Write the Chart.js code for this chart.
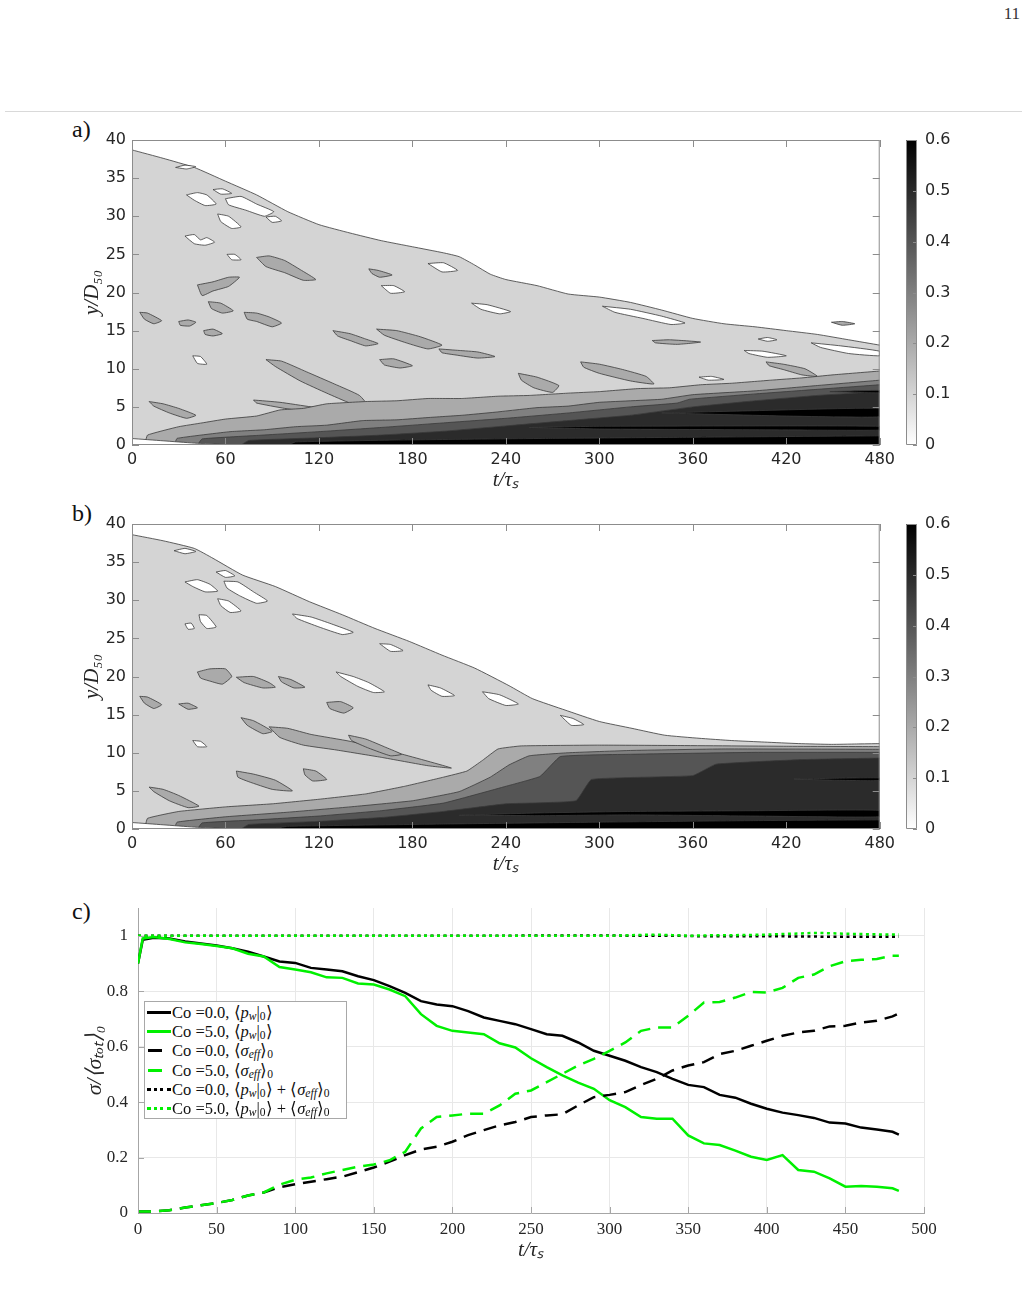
<!DOCTYPE html>
<html>
<head>
<meta charset="utf-8">
<script src="https://cdn.jsdelivr.net/npm/chart.js@4.4.1/dist/chart.umd.min.js"></script>
<style>
  body { margin: 0; background: #fff; width: 1029px; height: 1290px; position: relative; overflow: hidden; }
  canvas { position: absolute; }
  .tag { position: absolute; font: 24px 'Liberation Serif', serif; color: #111; }
  #pagenum { position: absolute; right: 9px; top: 4px; font: 17px 'Liberation Serif', serif; color: #333; }
  #rule { position: absolute; left: 5px; top: 111px; width: 1017px; height: 1px; background: #d9d9d9; }
  #legend { position: absolute; left: 144px; top: 1001px; width: 201px; height: 116px; border: 1px solid #a8a8a8;
            background: #fff; z-index: 2; font: 16.5px 'Liberation Serif', serif; color: #111; }
  #legend .row { position: absolute; left: 0; height: 19px; line-height: 19px; white-space: nowrap; }
  #legend .smp { position: absolute; top: 8px; height: 0; }
  #legend .txt { position: absolute; left: 27px; top: 0; }
  #legend sub { font-size: 70%; vertical-align: -0.2em; line-height: 0; }
</style>
</head>
<body>
<div id="pagenum">11</div>
<div id="rule"></div>
<div class="tag" style="left:72px;top:116px">a)</div>
<div class="tag" style="left:72px;top:500px">b)</div>
<div class="tag" style="left:72px;top:898px">c)</div>

<canvas id="contourA" width="900" height="390" style="left:0;top:110px"></canvas>
<canvas id="barA" width="149" height="390" style="left:880px;top:110px"></canvas>
<canvas id="contourB" width="900" height="390" style="left:0;top:494px"></canvas>
<canvas id="barB" width="149" height="390" style="left:880px;top:494px"></canvas>
<canvas id="stressC" width="1000" height="390" style="left:0;top:880px"></canvas>
<div id="legend"></div>

<script>
// ---------- panel a / b : contour levels as [t, y] ----------
const levelGreys = ['#d4d4d4', '#aaaaaa', '#808080', '#555555', '#2b2b2b', '#000000'];
const colorbarMax = 0.6;

// panel a
const aTop = [[0,38.7],[20,37.6],[40,36.4],[60,34.6],[80,32.8],[100,30.6],[120,28.9],[140,27.8],[160,26.8],
  [180,26.0],[200,25.2],[210,24.7],[220,23.6],[230,22.4],[240,21.7],[260,20.9],[280,19.8],[300,19.4],[320,18.7],
  [340,17.7],[360,16.6],[380,15.9],[400,15.5],[420,15.0],[440,14.5],[460,13.8],[480,13.1]];
const aWedge = [[0,0.85],[20,0.55],[40,0.25],[60,0.05],[70,0]];
const aLev2 = [[8,0],[10,1.3],[30,2.4],[45,2.9],[60,3.4],[80,3.8],[95,4.6],[110,4.8],[125,5.4],[150,5.7],[170,5.8],
  [190,6.1],[212,6.1],[235,6.4],[255,6.5],[280,6.8],[300,7.0],[325,7.4],[345,7.5],[365,7.9],[385,8.1],[410,8.5],
  [430,8.8],[450,9.2],[480,9.7]];
const aLev3 = [[27,0],[29,0.87],[63,1.75],[85,2.0],[105,2.4],[125,2.6],[148,3.2],[170,3.3],[190,3.6],[212,3.9],
  [233,4.3],[260,4.9],[280,5.1],[300,5.6],[340,6.0],[360,6.6],[400,7.1],[440,7.8],[480,8.5]];
const aLev4 = [[42,0],[45,0.8],[80,1.25],[120,1.75],[160,2.3],[200,2.9],[240,3.5],[280,4.2],[320,5.0],[350,5.5],
  [358,6.0],[400,6.7],[440,7.3],[480,7.9]];
const aLev5 = [[70,0],[75,0.6],[120,0.95],[160,1.3],[200,1.8],[240,2.5],[280,3.2],[320,3.9],[360,5.0],[400,5.8],
  [440,6.5],[480,7.0]];
const aLev6 = [[100,0],[105,0.4],[170,0.65],[270,0.87],[350,1.0],[480,1.2]];
const aWhiteSpots = [
  [[28,36.4],[34,36.7],[41,36.5],[35,36.2]],
  [[52,33.5],[58,33.6],[64,33.0],[57,32.9]],
  [[35,32.8],[42,33.1],[48,32.8],[54,31.6],[47,31.4],[40,32.1]],
  [[60,32.3],[70,32.6],[80,31.6],[91,30.6],[85,30.0],[73,30.8],[62,31.5]],
  [[55,30.3],[62,30.0],[70,28.6],[64,28.4],[57,29.3]],
  [[86,29.9],[92,30.0],[96,29.4],[90,29.2]],
  [[61,25.0],[66,25.0],[70,24.3],[64,24.3]],
  [[160,20.9],[168,20.9],[175,20.1],[166,19.9]],
  [[218,18.6],[228,18.4],[243,17.5],[236,17.2],[224,17.8]],
  [[190,23.8],[200,23.9],[209,22.9],[199,22.7]],
  [[34,27.4],[40,27.6],[44,26.9],[48,27.2],[53,26.6],[47,26.2],[40,26.4]],
  [[39,11.7],[44,11.6],[48,10.6],[42,10.7]],
  [[302,18.2],[320,17.8],[340,16.9],[355,16.0],[346,15.8],[328,16.6],[310,17.4]],
  [[393,12.4],[405,12.3],[420,11.7],[408,11.5],[396,12.0]],
  [[402,13.9],[408,14.1],[414,13.8],[408,13.6]],
  [[436,13.4],[455,13.0],[480,12.3],[480,11.7],[460,12.0],[442,12.8]],
  [[364,8.9],[372,9.0],[380,8.6],[370,8.5]]
];
const aGreySpots = [
  [[80,24.6],[88,24.8],[98,24.2],[108,23.0],[118,21.7],[110,21.6],[98,22.6],[86,23.4]],
  [[42,21.0],[52,21.4],[62,22.0],[69,22.0],[62,20.8],[52,20.2],[45,19.6]],
  [[49,18.8],[57,18.6],[65,17.6],[58,17.3],[51,17.9]],
  [[72,17.4],[80,17.3],[88,16.8],[96,16.0],[90,15.5],[80,16.2],[74,16.5]],
  [[129,15.0],[140,14.6],[150,13.9],[158,13.3],[150,13.0],[140,13.7],[132,14.3]],
  [[157,15.2],[170,15.0],[185,14.2],[199,13.1],[190,12.6],[176,13.4],[162,14.4]],
  [[197,12.6],[210,12.4],[222,12.2],[233,11.6],[222,11.4],[208,11.8],[199,12.1]],
  [[5,17.4],[10,17.3],[19,16.3],[14,15.9],[8,16.5]],
  [[30,16.2],[36,16.4],[41,16.1],[37,15.6],[31,15.7]],
  [[46,15.0],[52,15.2],[58,14.6],[52,14.3],[47,14.5]],
  [[159,11.2],[168,11.3],[180,10.4],[172,10.1],[162,10.5]],
  [[152,23.1],[158,22.9],[167,22.3],[159,22.0],[154,22.5]],
  [[334,13.7],[345,13.8],[365,13.5],[350,13.2],[336,13.4]],
  [[407,10.9],[418,10.6],[432,10.0],[440,9.0],[430,9.2],[418,9.9],[409,10.4]],
  [[449,16.1],[456,16.2],[464,15.9],[456,15.7]],
  [[86,11.2],[96,11.0],[112,9.6],[130,8.0],[146,6.5],[152,5.0],[140,5.5],[125,6.8],[108,8.4],[92,10.3]],
  [[78,5.9],[95,5.6],[115,5.0],[135,4.5],[152,3.8],[140,3.6],[118,4.2],[98,4.8],[80,5.5]],
  [[11,5.7],[20,5.4],[30,4.8],[41,3.9],[35,3.5],[24,4.2],[14,5.1]],
  [[248,9.4],[260,8.9],[274,7.8],[270,6.9],[258,7.5],[250,8.5]],
  [[288,10.9],[300,10.6],[315,9.9],[330,9.0],[335,8.0],[320,8.4],[300,9.4],[290,10.2]]
];
const aBlackSpots = [
  [[255,2.3],[300,2.45],[400,2.5],[480,2.45],[480,1.95],[400,2.0],[300,2.1]],
  [[340,4.2],[400,4.5],[480,4.8],[480,3.7],[420,3.8]],
  [[448,7.0],[465,7.1],[480,7.15],[480,6.85],[465,6.9]]
];

// panel b
const bTop = [[0,38.6],[20,37.8],[40,36.8],[52,35.5],[71,33.3],[92,31.8],[114,29.8],[135,28.1],[156,26.3],
  [178,24.6],[199,22.8],[220,21.1],[242,18.8],[257,17.1],[278,15.6],[300,14.1],[321,13.2],[342,12.3],[364,11.9],
  [385,11.6],[406,11.4],[428,11.2],[449,11.1],[465,11.15],[480,11.2]];
const bWedge = [[0,0.85],[20,0.55],[40,0.25],[60,0.05],[70,0]];
const bLev2 = [[8,0],[10,1.4],[30,2.3],[60,2.9],[90,3.3],[120,3.9],[150,4.6],[175,5.6],[200,6.8],[215,7.6],
  [225,9.0],[235,10.5],[250,10.9],[300,11.0],[350,10.95],[420,10.85],[480,10.8]];
const bLev3 = [[27,0],[29,0.9],[60,1.6],[100,2.2],[140,2.9],[180,3.7],[210,4.9],[230,6.8],[242,8.4],[255,9.6],
  [280,10.0],[320,10.3],[380,10.5],[480,10.45]];
const bLev4 = [[42,0],[45,0.8],[80,1.2],[120,1.7],[160,2.4],[200,3.4],[240,5.6],[262,6.9],[275,9.5],[320,9.8],
  [400,10.05],[480,10.05]];
const bLev5 = [[70,0],[75,0.6],[120,1.0],[160,1.5],[200,2.3],[240,3.3],[285,3.7],[295,6.5],[360,7.0],[375,8.5],
  [430,9.1],[480,9.3]];
const bLev6 = [[90,0],[100,0.35],[200,0.65],[300,0.9],[400,1.1],[480,1.2]];
const bWhiteSpots = [
  [[27,36.5],[34,36.8],[41,36.4],[34,36.1]],
  [[54,33.7],[60,33.9],[66,33.2],[60,33.0]],
  [[34,32.4],[42,32.7],[50,32.1],[55,31.2],[47,31.1],[39,31.8]],
  [[59,32.5],[68,32.4],[78,31.1],[87,29.9],[80,29.6],[69,30.6],[61,31.6]],
  [[55,30.2],[62,29.9],[70,28.6],[63,28.4],[57,29.3]],
  [[103,28.2],[115,27.8],[128,26.9],[142,25.8],[135,25.5],[120,26.5],[106,27.6]],
  [[159,24.3],[166,24.2],[174,23.4],[166,23.3]],
  [[131,20.6],[142,20.0],[152,19.2],[162,18.0],[155,17.9],[145,18.7],[134,20.0]],
  [[190,18.9],[198,18.5],[207,17.5],[199,17.4],[192,18.2]],
  [[225,18.0],[236,17.6],[248,16.4],[240,16.2],[229,17.1]],
  [[43,28.1],[48,28.0],[54,26.5],[48,26.3],[44,27.2]],
  [[39,11.6],[44,11.5],[48,10.8],[42,10.8]],
  [[275,14.9],[283,14.5],[290,13.7],[282,13.6]],
  [[34,26.9],[38,27.0],[40,26.3],[36,26.2]]
];
const bGreySpots = [
  [[5,17.4],[10,17.3],[19,16.3],[14,15.8],[8,16.5]],
  [[42,20.6],[50,21.0],[60,21.0],[64,20.0],[58,19.0],[50,19.4],[44,19.8]],
  [[67,19.9],[78,20.0],[88,19.2],[92,18.6],[84,18.5],[72,19.2]],
  [[94,20.0],[102,19.6],[111,18.6],[104,18.5],[96,19.3]],
  [[125,16.6],[134,16.7],[142,15.9],[136,15.2],[127,15.8]],
  [[30,16.4],[36,16.5],[42,15.9],[36,15.7]],
  [[70,14.6],[78,14.2],[90,12.8],[84,12.5],[74,13.6]],
  [[139,12.3],[150,11.8],[163,10.7],[173,9.8],[166,9.6],[152,10.6],[141,11.6]],
  [[88,13.4],[100,13.2],[115,12.4],[140,11.5],[170,10.0],[205,8.0],[190,8.3],[160,9.4],[130,10.4],[110,11.0],[95,12.0]],
  [[67,7.6],[78,7.2],[92,6.4],[103,5.0],[90,5.2],[75,6.2],[68,6.8]],
  [[110,7.9],[118,7.6],[125,6.5],[116,6.3],[111,7.1]],
  [[11,5.5],[20,5.2],[30,4.4],[43,3.0],[36,2.8],[24,3.7],[14,4.9]]
];
const bBlackSpots = [
  [[210,1.8],[260,2.1],[320,2.3],[400,2.4],[480,2.45],[480,1.6],[400,1.7],[320,1.85],[260,1.75]],
  [[425,6.55],[450,6.65],[480,6.7],[480,6.35],[450,6.4]]
];

// ---------- panel c : stresses vs t/tau_s ----------
const tGrid = [0,3,10,20,30,40,50,60,70,80,90,100,110,120,130,140,150,160,170,180,190,200,210,220,230,240,
  250,260,270,280,290,300,310,320,330,340,350,360,370,380,390,400,410,420,430,440,450,460,470,480,484];
const pwCo0 = [0.90,0.985,0.993,0.990,0.979,0.972,0.965,0.955,0.942,0.925,
  0.907,0.902,0.884,0.878,0.872,0.854,0.840,0.818,0.794,0.764,
  0.752,0.746,0.728,0.705,0.693,0.681,0.663,0.645,0.639,0.615,
  0.585,0.567,0.549,0.526,0.508,0.484,0.462,0.454,0.426,0.416,
  0.394,0.376,0.362,0.353,0.343,0.326,0.323,0.308,0.301,0.293,0.283];
const pwCo5 = [0.90,0.99,0.995,0.988,0.976,0.970,0.963,0.955,0.935,0.925,
  0.887,0.878,0.868,0.850,0.848,0.828,0.824,0.806,0.782,0.717,
  0.675,0.657,0.651,0.645,0.612,0.597,0.558,0.526,0.496,0.470,
  0.448,0.407,0.382,0.346,0.340,0.340,0.280,0.251,0.245,0.225,
  0.203,0.191,0.209,0.155,0.149,0.125,0.095,0.097,0.095,0.089,0.080];
const effCo0 = [0.005,0.005,0.006,0.010,0.020,0.028,0.036,0.047,0.063,0.074,
  0.093,0.104,0.113,0.122,0.131,0.147,0.164,0.185,0.209,0.229,
  0.239,0.257,0.281,0.299,0.316,0.328,0.346,0.352,0.356,0.388,
  0.418,0.426,0.436,0.462,0.484,0.514,0.532,0.544,0.573,0.585,
  0.603,0.621,0.639,0.651,0.657,0.673,0.675,0.687,0.693,0.709,0.720];
const effCo5 = [0.005,0.005,0.006,0.010,0.020,0.028,0.036,0.047,0.063,0.074,
  0.102,0.120,0.128,0.143,0.155,0.167,0.175,0.190,0.221,0.305,
  0.346,0.352,0.358,0.358,0.388,0.430,0.442,0.472,0.502,0.532,
  0.556,0.585,0.615,0.657,0.669,0.669,0.711,0.759,0.761,0.777,
  0.797,0.795,0.812,0.848,0.860,0.890,0.908,0.913,0.916,0.928,0.928];
const sumCo0 = [1.0,1.0,1.0,1.0,1.0,1.0,1.0,1.0,1.0,1.0,
  1.0,1.0,1.0,1.0,1.0,1.0,1.0,1.0,1.0,1.0,
  1.0,1.0,1.0,1.0,1.0,1.0,1.001,1.001,1.001,1.001,
  1.001,1.001,1.0,1.0,1.0,1.0,0.999,0.998,0.998,0.998,
  0.998,0.998,0.998,0.997,0.997,0.996,0.996,0.996,0.996,0.996,0.996];
const sumCo5 = [1.0,1.0,1.0,1.0,1.0,1.0,1.0,1.0,1.0,1.0,
  1.0,1.0,1.0,1.0,1.0,1.0,1.0,1.0,1.0,1.0,
  1.0,1.0,1.0,1.0,1.0,1.0,1.0,1.0,1.0,1.0,
  1.0,1.0,1.001,1.003,1.004,1.002,1.0,1.001,1.002,1.002,
  1.003,1.004,1.006,1.008,1.010,1.009,1.007,1.006,1.005,1.004,1.004];
const legendLabels = [
  'Co =0.0, ⟨<i>p<sub>w</sub></i>|<sub>0</sub>⟩',
  'Co =5.0, ⟨<i>p<sub>w</sub></i>|<sub>0</sub>⟩',
  'Co =0.0, ⟨<i>σ<sub>eff</sub></i>⟩<sub>0</sub>',
  'Co =5.0, ⟨<i>σ<sub>eff</sub></i>⟩<sub>0</sub>',
  'Co =0.0, ⟨<i>p<sub>w</sub></i>|<sub>0</sub>⟩ + ⟨<i>σ<sub>eff</sub></i>⟩<sub>0</sub>',
  'Co =5.0, ⟨<i>p<sub>w</sub></i>|<sub>0</sub>⟩ + ⟨<i>σ<sub>eff</sub></i>⟩<sub>0</sub>'
];

// ---------- helpers ----------
const inkColor = '#262626';
const frameGrey = '#8c8c8c';
const edgeColor = '#3a3a3a';

// draws the box and the small inward tick marks (matlab style)
function framePlugin(opt) {
  return {
    id: 'frame',
    afterDatasetsDraw(chart) {
      const {ctx, chartArea: a, scales} = chart;
      const L = opt.tick;
      ctx.save();
      ctx.strokeStyle = opt.color;
      ctx.lineWidth = 1;
      ctx.beginPath();
      if (opt.box) ctx.rect(a.left + 0.5, a.top + 0.5, a.right - a.left - 1, a.bottom - a.top - 1);
      if (opt.xTicks) {
        scales.x.ticks.forEach(t => {
          const p = Math.round(scales.x.getPixelForValue(t.value)) + 0.5;
          ctx.moveTo(p, a.bottom); ctx.lineTo(p, a.bottom - L);
          if (opt.box) { ctx.moveTo(p, a.top); ctx.lineTo(p, a.top + L); }
        });
      }
      scales.y.ticks.forEach(t => {
        const p = Math.round(scales.y.getPixelForValue(t.value)) + 0.5;
        if (opt.left) { ctx.moveTo(a.left, p); ctx.lineTo(a.left + L, p); }
        if (opt.right) { ctx.moveTo(a.right, p); ctx.lineTo(a.right - L, p); }
      });
      ctx.stroke();
      ctx.restore();
    }
  };
}

function buildContour(id, top, wedge, levels, whiteSpots, greySpots, blackSpots) {
  const pts = arr => arr.map(([x, y]) => ({x, y}));
  const ring = arr => pts(arr.concat([arr[0]]));   // close the island outline
  const base = {showLine: true, pointRadius: 0, borderColor: edgeColor, borderWidth: 0.8};
  const ds = [];
  // outer 0.1 contour, everything below it light grey
  ds.push({...base, data: pts(top), fill: 'origin', backgroundColor: levelGreys[0], tension: 0.15, order: 60});
  whiteSpots.forEach(s => ds.push({...base, data: ring(s), fill: 'shape', backgroundColor: '#ffffff', tension: 0.15, order: 55}));
  greySpots.forEach(s => ds.push({...base, data: ring(s), fill: 'shape', backgroundColor: levelGreys[1], tension: 0.15, order: 55}));
  // higher levels stacked on top, darker each time
  levels.forEach((lv, i) => ds.push({...base, data: pts(lv), fill: 'origin', backgroundColor: levelGreys[i + 1], tension: 0.1, order: 50 - i * 8}));
  blackSpots.forEach(s => ds.push({...base, data: ring(s), fill: 'shape', backgroundColor: '#000000', tension: 0.15, order: 12}));
  // thin white wedge at the bottom left
  ds.push({...base, data: pts(wedge), fill: 'origin', backgroundColor: '#ffffff', tension: 0.2, order: 2});

  new Chart(document.getElementById(id), {
    type: 'scatter',
    data: {datasets: ds},
    options: {
      responsive: false,
      animation: false,
      events: [],
      layout: {padding: {top: 30, right: 18, left: 0, bottom: 0}},
      plugins: {legend: {display: false}, tooltip: {enabled: false}},
      scales: {
        x: {
          min: 0, max: 480,
          afterFit: s => { s.height = 55; },
          ticks: {stepSize: 60, padding: 5, color: inkColor, font: {family: 'DejaVu Sans', size: 16}},
          grid: {display: false, drawTicks: false},
          border: {display: false},
          title: {display: true, text: 't/τₛ', color: inkColor,
                  font: {family: 'Liberation Serif', style: 'italic', size: 21}, padding: {top: 0, bottom: 7}}
        },
        y: {
          min: 0, max: 40,
          afterFit: s => { s.width = 132; },
          ticks: {stepSize: 5, padding: 6, color: inkColor, font: {family: 'DejaVu Sans', size: 16}},
          grid: {display: false, drawTicks: false},
          border: {display: false},
          title: {display: true, text: 'y/D₅₀', color: inkColor,
                  font: {family: 'Liberation Serif', style: 'italic', size: 21}, padding: {top: 80, bottom: 0}}
        }
      }
    },
    plugins: [framePlugin({box: true, xTicks: true, left: true, right: true, tick: 7, color: frameGrey})]
  });
}

function buildColorbar(id) {
  new Chart(document.getElementById(id), {
    type: 'bar',
    data: {
      labels: [''],
      datasets: [{
        data: [colorbarMax],
        borderWidth: 0,
        barPercentage: 1,
        categoryPercentage: 1,
        backgroundColor: ctx => {
          const a = ctx.chart.chartArea;
          if (!a) return '#888';
          const g = ctx.chart.ctx.createLinearGradient(0, a.bottom, 0, a.top);
          g.addColorStop(0, '#ffffff');
          g.addColorStop(1, '#000000');
          return g;
        }
      }]
    },
    options: {
      responsive: false,
      animation: false,
      events: [],
      layout: {padding: {top: 30, left: 26, bottom: 55, right: 0}},
      plugins: {legend: {display: false}, tooltip: {enabled: false}},
      scales: {
        x: {display: false},
        y: {
          position: 'right', min: 0, max: colorbarMax,
          afterFit: s => { s.width = 112; },
          ticks: {stepSize: 0.1, padding: 8, color: inkColor, font: {family: 'DejaVu Sans', size: 16}},
          grid: {display: false, drawTicks: false},
          border: {display: false}
        }
      }
    },
    plugins: [framePlugin({box: true, xTicks: false, left: false, right: true, tick: 4, color: frameGrey})]
  });
}

buildContour('contourA', aTop, aWedge, [aLev2, aLev3, aLev4, aLev5, aLev6], aWhiteSpots, aGreySpots, aBlackSpots);
buildColorbar('barA');
buildContour('contourB', bTop, bWedge, [bLev2, bLev3, bLev4, bLev5, bLev6], bWhiteSpots, bGreySpots, bBlackSpots);
buildColorbar('barB');

// ---------- panel c ----------
const green = '#00f000';
const series = [
  {values: pwCo0, color: '#000000', dash: []},
  {values: pwCo5, color: green, dash: []},
  {values: effCo0, color: '#000000', dash: [13, 8]},
  {values: effCo5, color: green, dash: [13, 8]},
  {values: sumCo0, color: '#000000', dash: [3, 3.5]},
  {values: sumCo5, color: green, dash: [3, 3.5]}
];

new Chart(document.getElementById('stressC'), {
  type: 'line',
  data: {
    datasets: series.map((s, i) => ({
      data: s.values.map((v, k) => ({x: tGrid[k], y: v})),
      borderColor: s.color,
      borderDash: s.dash,
      borderWidth: 2.5,
      borderCapStyle: 'butt',
      pointRadius: 0,
      fill: false,
      tension: 0,
      order: series.length - i   // later series on top, like matlab
    }))
  },
  options: {
    responsive: false,
    animation: false,
    events: [],
    layout: {padding: {top: 28, right: 76, left: 0, bottom: 0}},
    plugins: {legend: {display: false}, tooltip: {enabled: false}},
    scales: {
      x: {
        type: 'linear', min: 0, max: 500,
        afterFit: s => { s.height = 57; },
        ticks: {stepSize: 50, padding: 6, color: inkColor, font: {family: 'Liberation Serif', size: 17}},
        grid: {color: '#e8e8e8', drawTicks: false},
        border: {color: '#a6a6a6'},
        title: {display: true, text: 't/τₛ', color: inkColor,
                font: {family: 'Liberation Serif', style: 'italic', size: 21}, padding: {top: 0, bottom: 7}}
      },
      y: {
        min: 0, max: 1.1,
        afterFit: s => { s.width = 138; },
        ticks: {stepSize: 0.2, includeBounds: false, padding: 10, color: inkColor,
                font: {family: 'Liberation Serif', size: 17},
                callback: v => String(Number(v.toFixed(1)))},
        grid: {color: '#e8e8e8', drawTicks: false},
        border: {color: '#a6a6a6'},
        title: {display: true, text: 'σ/⟨σₜₒₜ⟩₀', color: inkColor,
                font: {family: 'Liberation Serif', style: 'italic', size: 22}, padding: {top: 82, bottom: 0}}
      }
    }
  },
  plugins: [framePlugin({box: false, xTicks: true, left: true, right: false, tick: 6, color: '#a6a6a6'})]
});

// legend box for panel c (html so the sub/superscripts stay real text)
const legendBox = document.getElementById('legend');
series.forEach((s, i) => {
  const row = document.createElement('div');
  row.className = 'row';
  row.style.top = (1 + i * 19.2) + 'px';
  row.style.width = '200px';
  const smp = document.createElement('div');
  smp.className = 'smp';
  if (s.dash.length === 0) {
    smp.style.left = '2px'; smp.style.width = '24px';
    smp.style.borderTop = '3px solid ' + s.color;
  } else if (s.dash[0] > 5) {
    smp.style.left = '3px'; smp.style.width = '14px';
    smp.style.borderTop = '3px solid ' + s.color;
  } else {
    smp.style.left = '2px'; smp.style.width = '24px';
    smp.style.borderTop = '3px dotted ' + s.color;
  }
  const txt = document.createElement('div');
  txt.className = 'txt';
  txt.innerHTML = legendLabels[i];
  row.appendChild(smp);
  row.appendChild(txt);
  legendBox.appendChild(row);
});
</script>
</body>
</html>
